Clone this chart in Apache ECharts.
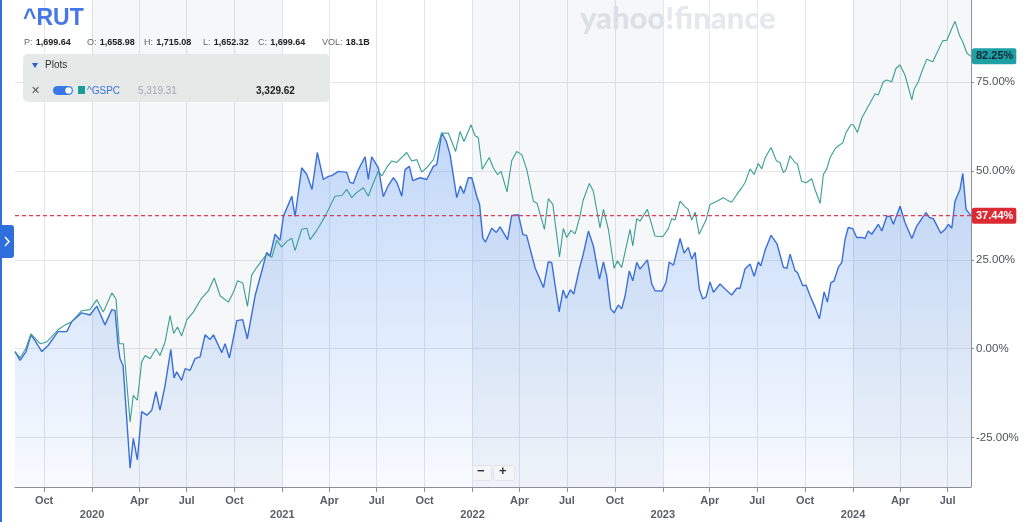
<!DOCTYPE html>
<html><head><meta charset="utf-8">
<script src="https://cdn.jsdelivr.net/npm/echarts@6/dist/echarts.min.js"></script>
<style>html,body{margin:0;padding:0;background:#fff}#c{width:1024px;height:522px}</style>
</head><body><div id="c"></div>
<script>
// ---- data (time as decimal year, values as % change) ----
const rutTime = [2019.595,2019.622,2019.653,2019.679,2019.700,2019.736,2019.769,2019.821,2019.867,2019.893,
2019.946,2019.989,2020.025,2020.068,2020.104,2020.121,2020.137,2020.147,2020.163,2020.200,
2020.217,2020.238,2020.261,2020.288,2020.314,2020.336,2020.357,2020.384,2020.414,2020.431,
2020.445,2020.471,2020.489,2020.515,2020.541,2020.568,2020.594,2020.620,2020.638,2020.682,
2020.699,2020.722,2020.761,2020.792,2020.816,2020.857,2020.892,2020.918,2020.936,2020.962,
2020.988,2021.006,2021.050,2021.067,2021.102,2021.129,2021.156,2021.184,2021.216,2021.242,
2021.260,2021.295,2021.339,2021.356,2021.373,2021.400,2021.435,2021.452,2021.470,2021.505,
2021.531,2021.557,2021.584,2021.602,2021.628,2021.645,2021.668,2021.686,2021.724,2021.759,
2021.794,2021.812,2021.838,2021.861,2021.882,2021.917,2021.936,2021.954,2021.978,2021.996,
2022.022,2022.037,2022.054,2022.068,2022.101,2022.125,2022.145,2022.184,2022.206,2022.241,
2022.265,2022.284,2022.329,2022.373,2022.398,2022.416,2022.455,2022.476,2022.493,2022.514,
2022.532,2022.560,2022.582,2022.609,2022.635,2022.667,2022.688,2022.705,2022.726,2022.744,
2022.766,2022.784,2022.802,2022.824,2022.842,2022.863,2022.880,2022.919,2022.942,2022.959,
2022.995,2023.017,2023.034,2023.056,2023.091,2023.112,2023.134,2023.152,2023.170,2023.192,
2023.210,2023.227,2023.248,2023.266,2023.301,2023.327,2023.362,2023.389,2023.406,2023.432,
2023.459,2023.480,2023.502,2023.515,2023.538,2023.569,2023.601,2023.634,2023.652,2023.669,
2023.695,2023.707,2023.736,2023.753,2023.774,2023.800,2023.823,2023.848,2023.865,2023.883,
2023.900,2023.923,2023.941,2023.958,2023.975,2023.998,2024.019,2024.046,2024.063,2024.080,
2024.098,2024.133,2024.151,2024.177,2024.195,2024.212,2024.247,2024.273,2024.309,2024.335,
2024.361,2024.384,2024.401,2024.422,2024.461,2024.484,2024.501,2024.519,2024.536,2024.562,
2024.577,2024.594,2024.620];
const rutPct = [-0.8,-3.3,-0.8,3.9,2.3,-0.8,0.9,4.8,4.8,7.6,
10.1,9.5,12.0,6.7,11.0,10.7,0.9,-2.8,-4.7,-33.6,
-25.2,-31.3,-17.7,-18.7,-17.3,-12.1,-17.3,-10.3,-0.2,-8.2,
-6.5,-8.9,-5.6,-6.1,-2.8,-2.3,3.9,2.6,3.9,-1.1,
1.4,-2.6,7.9,8.2,2.8,14.9,21.8,27.1,26.1,32.2,
30.5,37.3,42.9,37.2,50.9,49.0,44.8,55.2,47.6,48.5,
48.7,49.9,49.6,46.8,46.5,50.4,54.0,47.6,54.0,50.9,
42.8,45.9,48.1,46.8,42.9,50.4,51.3,47.3,48.1,47.6,
51.3,51.8,60.7,58.5,54.6,42.5,45.8,43.7,48.1,48.1,
42.9,40.6,31.1,30.0,33.9,32.7,34.3,30.7,37.5,37.7,
32.1,31.9,22.7,17.2,24.4,24.3,10.4,16.5,14.2,16.6,
15.4,22.2,26.6,33.1,28.9,19.6,24.4,20.5,11.2,10.1,
12.3,11.2,14.9,21.9,19.1,24.3,22.4,25.0,18.2,16.3,
16.2,18.7,24.4,23.5,31.0,26.9,28.5,25.2,27.1,16.8,
14.0,14.5,18.8,15.9,18.2,16.8,15.1,17.0,17.0,22.4,
23.8,20.4,24.4,23.3,27.8,31.9,29.4,22.9,22.6,26.6,
21.9,21.5,17.7,17.9,14.9,11.7,8.4,16.0,13.1,18.5,
19.1,22.9,24.3,30.8,34.1,33.8,31.3,31.3,31.0,33.1,
32.2,35.0,33.1,37.2,37.3,35.0,40.1,35.5,31.0,34.5,
36.6,38.3,36.9,36.6,32.5,33.6,35.0,33.9,41.5,44.8,
49.3,39.2,37.44];

const spxTime = [2019.595,2019.622,2019.653,2019.679,2019.727,2019.762,2019.823,2019.858,2019.893,2019.946,
2019.989,2020.025,2020.059,2020.104,2020.126,2020.143,2020.165,2020.200,2020.217,2020.238,
2020.261,2020.279,2020.305,2020.336,2020.357,2020.384,2020.410,2020.429,2020.449,2020.471,
2020.498,2020.532,2020.573,2020.611,2020.642,2020.673,2020.716,2020.743,2020.765,2020.792,
2020.817,2020.839,2020.866,2020.892,2020.918,2020.945,2020.971,2020.997,2021.023,2021.050,
2021.067,2021.102,2021.129,2021.146,2021.175,2021.195,2021.225,2021.251,2021.277,2021.313,
2021.339,2021.365,2021.391,2021.426,2021.452,2021.479,2021.505,2021.523,2021.549,2021.575,
2021.602,2021.628,2021.654,2021.680,2021.707,2021.733,2021.759,2021.794,2021.838,2021.873,
2021.911,2021.934,2021.955,2021.992,2022.013,2022.030,2022.051,2022.088,2022.109,2022.131,
2022.150,2022.181,2022.206,2022.232,2022.259,2022.285,2022.320,2022.339,2022.378,2022.398,
2022.422,2022.457,2022.477,2022.495,2022.517,2022.539,2022.565,2022.581,2022.591,2022.614,
2022.635,2022.670,2022.688,2022.714,2022.744,2022.761,2022.784,2022.828,2022.842,2022.863,
2022.880,2022.919,2022.959,2023.000,2023.029,2023.047,2023.064,2023.091,2023.117,2023.134,
2023.152,2023.170,2023.191,2023.227,2023.248,2023.284,2023.318,2023.339,2023.362,2023.389,
2023.415,2023.432,2023.459,2023.480,2023.502,2023.520,2023.538,2023.569,2023.597,2023.616,
2023.634,2023.648,2023.669,2023.695,2023.707,2023.730,2023.753,2023.783,2023.800,2023.827,
2023.844,2023.862,2023.879,2023.905,2023.923,2023.946,2023.963,2023.988,2024.002,2024.023,
2024.046,2024.080,2024.116,2024.133,2024.159,2024.177,2024.203,2024.226,2024.247,2024.273,
2024.309,2024.321,2024.343,2024.361,2024.387,2024.419,2024.440,2024.471,2024.493,2024.519,
2024.536,2024.559,2024.577,2024.598,2024.620];
const spxPct = [-0.8,-2.6,0.2,4.2,1.4,1.9,5.4,6.7,7.6,10.7,
11.0,13.8,10.3,15.7,14.0,1.4,1.4,-20.6,-13.1,-14.5,
-3.7,-1.9,-2.8,0.0,-1.9,1.9,9.3,4.3,6.1,3.6,
8.1,10.3,14.0,16.3,19.9,14.9,13.1,15.9,19.1,18.5,
11.9,20.7,22.9,24.8,26.6,25.7,30.5,28.6,30.2,31.1,
27.6,33.6,33.9,30.7,32.8,34.5,37.3,40.1,42.9,43.1,
44.8,42.5,43.9,45.3,42.9,46.7,50.0,48.6,51.0,52.8,
52.4,53.8,55.2,52.8,53.2,49.7,50.9,53.2,60.7,60.6,
55.5,61.1,58.3,63.0,59.9,59.4,50.5,53.8,50.9,49.0,
49.9,44.1,52.9,55.5,54.6,50.4,41.5,40.9,33.6,42.2,
40.6,25.8,33.8,31.3,33.3,32.3,37.4,41.7,42.2,46.5,
44.3,34.0,39.2,33.6,22.6,24.7,22.9,33.6,28.9,36.6,
35.9,39.2,31.7,31.5,33.8,36.6,36.2,41.5,39.9,39.2,
36.2,38.4,32.2,36.2,40.6,41.5,42.5,41.8,41.2,43.4,
45.3,46.7,50.6,49.0,52.1,50.6,53.7,56.6,52.9,52.4,
49.5,50.4,54.3,52.3,52.1,47.1,46.7,47.8,44.8,40.9,
49.0,50.6,53.7,56.2,57.1,57.9,60.8,63.0,63.0,60.8,
64.9,68.2,71.7,71.4,75.1,75.6,75.1,78.9,79.8,77.0,
70.0,73.0,75.1,77.9,81.4,80.7,83.1,86.6,86.8,90.1,
92.1,88.2,86.3,83.2,82.25];

const xTickDates = ['2019-10-01','2020-01-01','2020-04-01','2020-07-01','2020-10-01',
'2021-01-01','2021-04-01','2021-07-01','2021-10-01','2022-01-01','2022-04-01','2022-07-01','2022-10-01',
'2023-01-01','2023-04-01','2023-07-01','2023-10-01','2024-01-01','2024-04-01','2024-07-01'];
const monthNames = ['Jan','Feb','Mar','Apr','May','Jun','Jul','Aug','Sep','Oct','Nov','Dec'];
const yTickValues = [-25, 0, 25, 50, 75];
const shadedYears = [[2020, 2021], [2022, 2023], [2024, 2025]];
const xRange = [2019.595, 2024.620];
const yRange = [-38.9, 98.1];

const headerSymbol = '^RUT';
const ohlc = [['P:', '1,699.64'], ['O:', '1,658.98'], ['H:', '1,715.08'], ['L:', '1,652.32'], ['C:', '1,699.64'], ['VOL:', '18.1B']];
const compareSymbol = '^GSPC';
const compareValues = ['5,319.31', '3,329.62'];

// ---- helpers ----
function dateToYear(s) {
  const p = s.split('-').map(Number);
  const a = Date.UTC(p[0], 0, 1), b = Date.UTC(p[0] + 1, 0, 1);
  return p[0] + (Date.UTC(p[0], p[1] - 1, p[2]) - a) / (b - a);
}
const xTicks = xTickDates.map(dateToYear);
const xTickText = xTickDates.map(s => {
  const p = s.split('-').map(Number);
  return p[1] === 1 ? '\n' + p[0] : monthNames[p[1] - 1];
});
function xLabel(v) {
  let best = 0;
  for (let i = 1; i < xTicks.length; i++) if (Math.abs(xTicks[i] - v) < Math.abs(xTicks[best] - v)) best = i;
  return xTickText[best];
}

const rutData = rutTime.map((t, i) => [t, rutPct[i]]);
const spxData = spxTime.map((t, i) => [t, spxPct[i]]);
const rutLast = rutPct[rutPct.length - 1];
const spxLast = spxPct[spxPct.length - 1];

const FONT = '"Liberation Sans", Arial, sans-serif';
const chart = echarts.init(document.getElementById('c'), null, {renderer: 'canvas'});

const ohlcX = [24, 87, 144, 203, 258, 322];
const graphics = [
  {type: 'rect', left: 0, top: 0, shape: {width: 2, height: 522}, style: {fill: '#2f6fdc'}, z: 100},
  {type: 'rect', left: 0, top: 225, shape: {width: 14, height: 33, r: [0, 3, 3, 0]}, style: {fill: '#2f6fdc'}, z: 100},
  {type: 'polyline', shape: {points: [[5, 237], [9, 241.5], [5, 246]]}, style: {stroke: '#fff', lineWidth: 1.5, fill: null}, z: 101},
  {type: 'text', left: 580, top: 3, style: {text: 'yahoo!finance', font: '900 31px Lato, "Liberation Sans", sans-serif', fill: '#e5e8ec'}, z: 1},
  {type: 'text', left: 23, top: 7, style: {text: headerSymbol, font: 'bold 23px ' + FONT, fill: '#4677e6'}, z: 100},
  {type: 'rect', left: 23, top: 54, shape: {width: 307, height: 48, r: 5}, style: {fill: '#e5eae9'}, z: 100},
  {type: 'polygon', shape: {points: [[32, 63], [38, 63], [35, 68]]}, style: {fill: '#2a5fd0'}, z: 101},
  {type: 'text', left: 45, top: 60, style: {text: 'Plots', font: '10px ' + FONT, fill: '#333'}, z: 101},
  {type: 'text', left: 31, top: 85, style: {text: '✕', font: '11px ' + FONT, fill: '#555'}, z: 101},
  {type: 'rect', left: 53, top: 86, shape: {width: 20, height: 9, r: 4.5}, style: {fill: '#3b78e7'}, z: 101},
  {type: 'circle', shape: {cx: 68.5, cy: 90.5, r: 3.2}, style: {fill: '#fff'}, z: 102},
  {type: 'rect', left: 78, top: 86, shape: {width: 7, height: 8}, style: {fill: '#1a9e9c'}, z: 101},
  {type: 'text', left: 87, top: 86, style: {text: compareSymbol, font: '10px ' + FONT, fill: '#3b6fe0'}, z: 101},
  {type: 'text', left: 138, top: 86, style: {text: compareValues[0], font: '10px ' + FONT, fill: '#a3a7ad'}, z: 101},
  {type: 'text', left: 256, top: 86, style: {text: compareValues[1], font: 'bold 10px ' + FONT, fill: '#222'}, z: 101},
  {type: 'rect', left: 472, top: 465, shape: {width: 19, height: 15, r: 2}, style: {fill: '#f4f5f7', stroke: '#dfe2e6'}, z: 100},
  {type: 'rect', left: 493, top: 465, shape: {width: 21, height: 15, r: 2}, style: {fill: '#f4f5f7', stroke: '#dfe2e6'}, z: 100},
  {type: 'text', left: 477, top: 465, style: {text: '−', font: 'bold 13px ' + FONT, fill: '#333'}, z: 101},
  {type: 'text', left: 499, top: 465, style: {text: '+', font: 'bold 13px ' + FONT, fill: '#333'}, z: 101}
];
ohlc.forEach((p, i) => {
  graphics.push({type: 'text', left: ohlcX[i], top: 37, z: 100, style: {
    text: '{l|' + p[0] + '} {v|' + p[1] + '}',
    rich: {l: {font: '9px ' + FONT, fill: '#666'}, v: {font: 'bold 9px ' + FONT, fill: '#222'}}
  }});
});

const hiddenLine = {color: 'rgba(0,0,0,0)', width: 1, type: 'solid'};

const option = {
  animation: false,
  backgroundColor: '#fff',
  textStyle: {fontFamily: FONT},
  grid: {left: 15, right: 53, top: 0, bottom: 31, containLabel: false},
  xAxis: {
    type: 'value', min: xRange[0], max: xRange[1], scale: true,
    axisLine: {show: true, onZero: false, lineStyle: {color: '#8c9096', width: 1}},
    axisTick: {show: true, customValues: xTicks, length: 5, lineStyle: {color: '#8c9096'}},
    axisLabel: {customValues: xTicks, color: '#5b5f66', fontSize: 11, fontWeight: 600, margin: 7, lineHeight: 14,
      formatter: xLabel},
    splitLine: {show: true, lineStyle: {color: '#e3e6ea', width: 1}}
  },
  yAxis: {
    type: 'value', position: 'right', min: yRange[0], max: yRange[1],
    axisLine: {show: true, lineStyle: {color: '#8c9096', width: 1}},
    axisTick: {show: true, customValues: yTickValues, length: 3, lineStyle: {color: '#8c9096'}},
    axisLabel: {customValues: yTickValues, color: '#4d5158', fontSize: 11.5, margin: 5,
      formatter: v => v.toFixed(2) + '%'},
    splitLine: {show: true, lineStyle: {color: '#e3e6ea', width: 1}}
  },
  series: [
    {
      name: '^RUT', type: 'line', data: rutData, showSymbol: false, symbol: 'none', z: 3,
      lineStyle: {color: '#3a6fd8', width: 1.4},
      itemStyle: {color: '#3a6fd8'},
      areaStyle: {origin: 'start', color: new echarts.graphic.LinearGradient(0, 0, 0, 1, [
        {offset: 0, color: 'rgba(60,130,235,0.45)'},
        {offset: 1, color: 'rgba(60,130,235,0.05)'}
      ])},
      emphasis: {disabled: true},
      markArea: {silent: true, itemStyle: {color: 'rgba(120,140,170,0.07)'},
        data: shadedYears.map(p => [{xAxis: p[0]}, {xAxis: Math.min(p[1], xRange[1])}])},
      markLine: {silent: true, symbol: ['none', 'none'], animation: false,
        lineStyle: hiddenLine,
        emphasis: {disabled: true},
        label: {show: true, position: 'end', distance: 1, formatter: rutLast.toFixed(2) + '%', backgroundColor: '#dc2a35',
          color: '#fff', fontSize: 11, fontWeight: 600, padding: [3, 3, 2, 4], borderRadius: 2},
        data: [{yAxis: rutLast, lineStyle: hiddenLine}]}
    },
    {
      name: 'lastLine', type: 'line', data: [[xRange[0], rutLast], [xRange[1], rutLast]],
      showSymbol: false, symbol: 'none', z: 5, silent: true,
      lineStyle: {color: '#e23a52', width: 1.2, type: [4, 3]},
      itemStyle: {color: '#e23a52'},
      emphasis: {disabled: true}
    },
    {
      name: '^GSPC', type: 'line', data: spxData, showSymbol: false, symbol: 'none', z: 4,
      lineStyle: {color: '#3a9e95', width: 1.1},
      itemStyle: {color: '#3a9e95'},
      emphasis: {disabled: true},
      markLine: {silent: true, symbol: ['none', 'none'], animation: false,
        lineStyle: hiddenLine,
        emphasis: {disabled: true},
        label: {show: true, position: 'end', distance: 1, formatter: spxLast.toFixed(2) + '%', backgroundColor: '#1fa0a4',
          color: '#10293a', fontSize: 11, fontWeight: 600, padding: [3, 3, 2, 4], borderRadius: 2},
        data: [{yAxis: spxLast, lineStyle: hiddenLine}]}
    }
  ],
  graphic: graphics
};
chart.setOption(option);
</script>
</body></html>
